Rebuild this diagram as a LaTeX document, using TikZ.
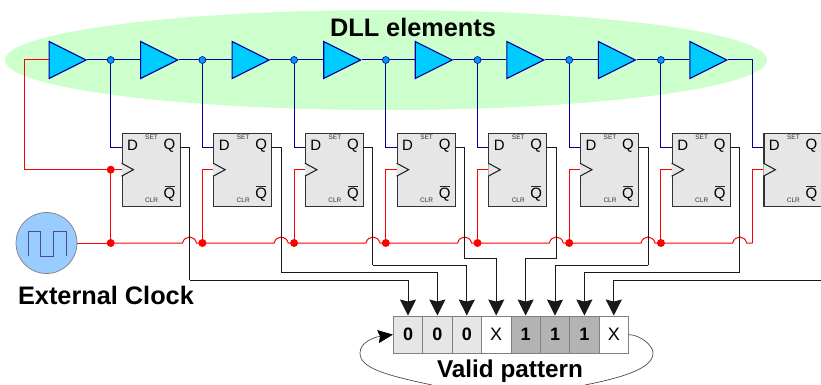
\documentclass[tikz,border=0pt]{standalone}
\usepackage{fontspec}
\setmainfont{Liberation Sans}
\usetikzlibrary{shapes.geometric,arrows.meta}
\definecolor{dllgreen}{HTML}{CCFFCC}
\definecolor{bufblue}{HTML}{00CCFF}
\definecolor{wireblue}{HTML}{000099}
\definecolor{dotblue}{HTML}{0099FF}
\definecolor{clockblue}{HTML}{99CCFF}
\definecolor{ffgray}{HTML}{E6E6E6}
\definecolor{onegray}{HTML}{B3B3B3}
\tikzset{
  x=1pt,y=-1pt,
  buffer/.style={isosceles triangle,isosceles triangle apex angle=54,isosceles triangle stretches,shape border rotate=0,draw=wireblue,fill=bufblue,line width=1.1pt,inner sep=0pt,minimum width=37pt,minimum height=37pt,anchor=lower side},
  flipflop/.style={rectangle,draw=black!80,fill=ffgray,line width=1.1pt,minimum width=58pt,minimum height=73pt,inner sep=0pt,anchor=north west},
  bluewire/.style={wireblue,line width=1pt},
  redwire/.style={red,line width=1pt},
  blackwire/.style={black!90,line width=1pt},
  bluedot/.style={circle,draw=wireblue,fill=dotblue,line width=0.6pt,inner sep=0pt,minimum size=7pt},
  reddot/.style={circle,fill=red,inner sep=0pt,minimum size=8pt},
  regcell/.style={rectangle,draw=black!50,line width=0.8pt,minimum width=29.4pt,minimum height=37.3pt,inner sep=0pt,font=\fontsize{18}{18}\selectfont},
  pinlabel/.style={inner sep=0pt,font=\fontsize{15}{15}\selectfont},
  tinylabel/.style={inner sep=0pt,text=black!80,font=\fontsize{6.5}{6.5}\selectfont},
  titlelabel/.style={inner sep=0pt,font=\bfseries\fontsize{25.3}{25.3}\selectfont},
  bigtip/.style={-{Stealth[length=16pt,width=16pt,inset=2pt]}},
}
\begin{document}
\begin{tikzpicture}
\useasboundingbox (0,0) rectangle (821,385);
\node[ellipse,fill=dllgreen,minimum width=762pt,minimum height=100pt,inner sep=0pt] (dll) at (386,60) {};
% register cells
\foreach \i/\t/\c/\w in {1/0/ffgray/\bfseries,2/0/ffgray/\bfseries,3/0/ffgray/\bfseries,4/X/white/,5/1/onegray/\bfseries,6/1/onegray/\bfseries,7/1/onegray/\bfseries,8/X/white/}{
  \pgfmathsetmacro\cx{393.3+29.4*(\i-0.5)}
  \node[regcell,fill=\c] (cell\i) at (\cx,334.6) {\w\t};
}
% buffers and flip-flops
\foreach \i in {1,...,8}{
  \pgfmathsetmacro\bx{48.5+91.55*(\i-1)}
  \pgfmathsetmacro\fx{121.5+91.7*(\i-1)}
  \pgfmathsetmacro\jx{\fx-10.8}
  \pgfmathsetmacro\qx{\fx+68}
  \coordinate (dpin\i) at (\fx,147);
  \coordinate (cpin\i) at (\fx,169.7);
  \coordinate (qpin\i) at (\fx+58,147);
  \coordinate (tap\i) at (\jx,60);
  \coordinate (clk\i) at (\jx,243);
  \coordinate (qdrop\i) at (\qx,243);
  \node[flipflop] (ff\i) at (\fx,133) {};
  \node[pinlabel] (d\i) at (\fx+11,145) {D};
  \node[pinlabel] (q\i) at (\fx+48,145.5) {Q};
  \node[pinlabel] (qb\i) at (\fx+48,194.5) {Q};
  \node[tinylabel] (set\i) at (\fx+30,137.5) {SET};
  \node[tinylabel] (clr\i) at (\fx+30,200.5) {CLR};
  \draw[line width=1pt,black!85] (\fx+43,186) -- (\fx+53,186);
  \draw[line width=1pt,black!90,fill=ffgray] (\fx,163.2) -- (\fx+12,169.7) -- (\fx,176.2);
  \node[buffer] (buf\i) at (\bx,60) {};
}
% data wires
\draw[bluewire] (buf1.apex) -- (buf2.lower side);
\draw[bluewire] (buf2.apex) -- (buf3.lower side);
\draw[bluewire] (buf3.apex) -- (buf4.lower side);
\draw[bluewire] (buf4.apex) -- (buf5.lower side);
\draw[bluewire] (buf5.apex) -- (buf6.lower side);
\draw[bluewire] (buf6.apex) -- (buf7.lower side);
\draw[bluewire] (buf7.apex) -- (buf8.lower side);
\draw[bluewire] (buf8.apex) -| (clk8 |- dpin8) -- (dpin8);
\foreach \i in {1,...,7}{
  \draw[bluewire] (tap\i) |- (dpin\i);
}
% clock
\node[circle,draw=black!50,fill=clockblue,line width=0.7pt,minimum size=61pt,inner sep=0pt] (clock) at (46.5,243) {};
\draw[line width=1pt,draw=black!60!blue!70] (28.3,256) -- (28.3,231) -- (40.5,231) -- (40.5,256) -- (53,256) -- (53,231) -- (66,231) -- (66,256);
\coordinate (inp) at (24,60);
\draw[redwire] (buf1.lower side) -- (inp) |- (cpin1);
\foreach \i in {1,...,8}{
  \draw[redwire] (clk\i) |- (cpin\i);
}
\draw[redwire] (clock.east) -- (clk1);
\foreach \i/\j in {1/2,2/3,3/4,4/5,5/6,6/7,7/8}{
  \draw[redwire] (clk\i) -- ([xshift=-7pt]qdrop\i) .. controls ([xshift=-5pt,yshift=8pt]qdrop\i) and ([xshift=5pt,yshift=8pt]qdrop\i) .. ([xshift=7pt]qdrop\i) -- (clk\j);
}
% outputs
\coordinate (low1) at (189.5,280);
\coordinate (low2) at (281.5,272.5);
\coordinate (low3) at (372.5,265);
\coordinate (low4) at (464.5,258.5);
\coordinate (low5) at (556.5,258.5);
\coordinate (low6) at (648,265);
\coordinate (low7) at (739.5,272.5);
\coordinate (low8) at (821,280);
\foreach \i in {1,...,7}{
  \draw[blackwire] (qpin\i) -| (low\i);
  \draw[blackwire,bigtip] (low\i) -| (cell\i.north);
}
\draw[blackwire,bigtip] (low8) -| (cell8.north);
% dots
\foreach \i in {1,...,7}{
  \node[bluedot] (bd\i) at (tap\i) {};
  \node[reddot] (rd\i) at (clk\i) {};
}
\node[reddot] (rdin) at (clk1 |- cpin1) {};
% labels
\node[titlelabel] (dlltitle) at (413,27) {DLL elements};
\node[titlelabel] (clocktitle) at (106,295) {External Clock};
\node[titlelabel,font=\bfseries\fontsize{24.3}{24.3}\selectfont] (validtitle) at (510,371) {Valid pattern};
% loop
\coordinate (loopl) at (432,385);
\coordinate (loopr) at (585,385);
\draw[black!70,line width=0.7pt,-{Stealth[length=15pt,width=13pt,inset=2pt,black]}] (loopl) .. controls (385,375) and (360,368) .. (360,353) .. controls (360,342) and (375,337) .. (cell1.west);
\draw[black!70,line width=0.7pt] (cell8.east) .. controls (640,335) and (653,345) .. (653,353) .. controls (653,368) and (625,377) .. (loopr);
\end{tikzpicture}
\end{document}
